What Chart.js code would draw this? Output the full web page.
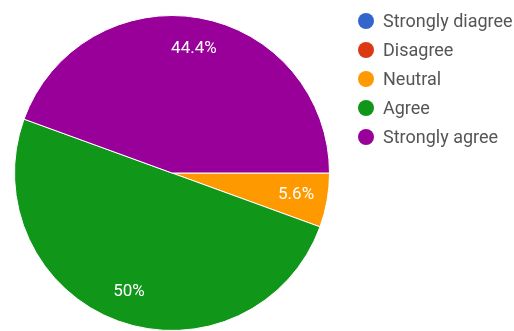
<!DOCTYPE html>
<html>
<head>
<meta charset="utf-8">
<script src="https://cdn.jsdelivr.net/npm/chart.js@4"></script>
<style>
  html, body { margin: 0; padding: 0; background: #fff; }
  #wrap { width: 514px; height: 331px; }
</style>
</head>
<body>
<div id="wrap"><canvas id="chart1" width="514" height="331"></canvas></div>
<script>
// survey answers (number of respondents)
var answers = ["Strongly diagree", "Disagree", "Neutral", "Agree", "Strongly agree"];
var counts = [0, 0, 1, 9, 8];
var colours = ["#3366cc", "#dc3912", "#ff9900", "#109618", "#990099"];

// percent text inside each slice
const sliceLabels = {
  id: "sliceLabels",
  afterDatasetsDraw(chart) {
    const ctx = chart.ctx;
    const meta = chart.getDatasetMeta(0);
    const total = counts.reduce((a, b) => a + b, 0);
    ctx.save();
    ctx.font = "17px Roboto, Arial, sans-serif";
    ctx.fillStyle = "#fff";
    ctx.textAlign = "center";
    ctx.textBaseline = "middle";
    meta.data.forEach((arc, i) => {
      if (!counts[i]) return;
      const p = arc.getProps(["x", "y", "startAngle", "endAngle", "outerRadius"], true);
      const mid = (p.startAngle + p.endAngle) / 2;
      const r = p.outerRadius * 0.8;
      let pct = Math.round(counts[i] / total * 1000) / 10;
      ctx.fillText(pct + "%", p.x + Math.cos(mid) * r, p.y + Math.sin(mid) * r);
    });
    ctx.restore();
  }
};

// legend on the right: dot + label
const sideLegend = {
  id: "sideLegend",
  afterDraw(chart) {
    const ctx = chart.ctx;
    ctx.save();
    ctx.font = "18px Roboto, Arial, sans-serif";
    ctx.textBaseline = "middle";
    answers.forEach((name, i) => {
      const y = 21 + i * 29;
      ctx.beginPath();
      ctx.arc(366, y, 8, 0, Math.PI * 2);
      ctx.fillStyle = colours[i];
      ctx.fill();
      ctx.fillStyle = "#555";
      ctx.fillText(name, 383, y + 1);
    });
    ctx.restore();
  }
};

const myChart1 = new Chart(document.getElementById("chart1"), {
  type: "pie",
  data: {
    labels: answers,
    datasets: [{
      data: counts,
      backgroundColor: colours,
      borderColor: "#fff",
      borderWidth: 1
    }]
  },
  options: {
    responsive: false,
    animation: false,
    rotation: 90,
    layout: { padding: { left: 14, top: 15, right: 184, bottom: 0 } },
    plugins: {
      legend: { display: false },
      tooltip: { enabled: false }
    }
  },
  plugins: [sliceLabels, sideLegend]
});
</script>
</body>
</html>
